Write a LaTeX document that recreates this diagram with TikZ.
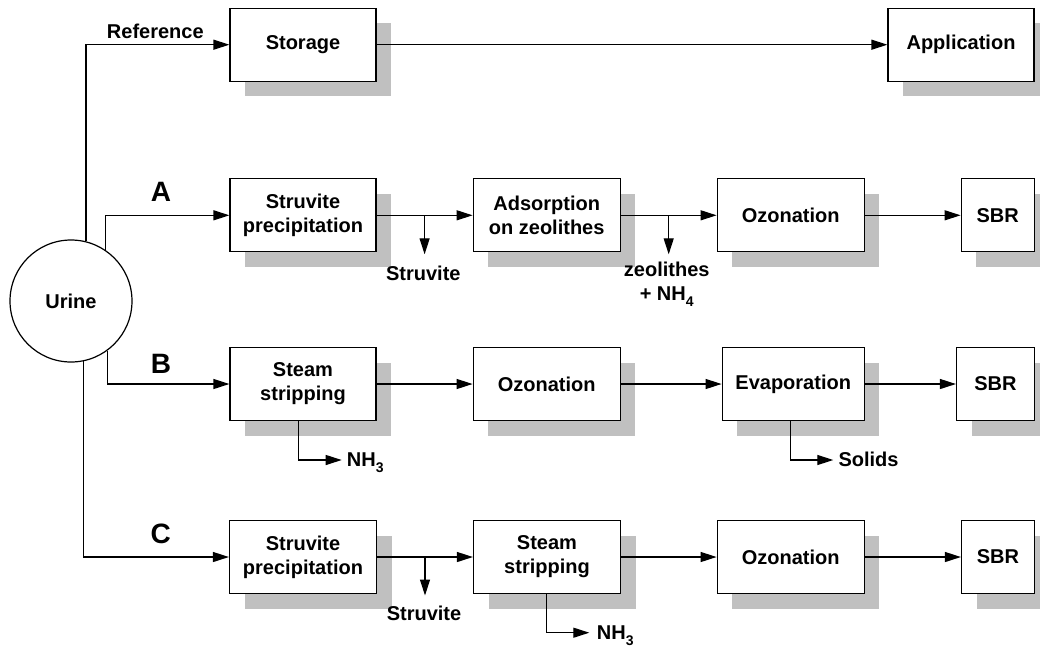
\documentclass[tikz,border=0pt]{standalone}
\usepackage{fontspec}
\setmainfont{Liberation Sans}
\usetikzlibrary{arrows.meta,shadows,calc}
\definecolor{shadowgray}{RGB}{192,192,192}
% lowered index for chemical formulas
\newcommand\chemsub[1]{\raisebox{-6pt}{\fontsize{14}{14}\selectfont #1}}
\tikzset{
  every node/.style={font=\bfseries\fontsize{20}{24}\selectfont},
  proc/.style={draw, line width=1.2pt, fill=white, align=center, inner sep=0pt,
    minimum width=146pt, minimum height=73pt,
    general shadow={fill=shadowgray, shadow xshift=15pt, shadow yshift=-15pt}},
  source/.style={circle, draw, line width=1.2pt, fill=white, minimum size=122pt, inner sep=0pt},
  flow/.style={line width=1.2pt, -{Triangle[length=16pt,width=10pt]}},
  lbl/.style={inner sep=0pt, align=center},
  route/.style={inner sep=0pt, font=\bfseries\fontsize{28}{32}\selectfont},
}
\begin{document}
\begin{tikzpicture}[x=1pt,y=-1pt]
\useasboundingbox (0,0) rectangle (1040,646);

% source
\node[source] (urine) at (71,301) {Urine};

% reference line
\node[proc] (storage) at (303,44.7) {Storage};
\node[proc] (app) at (961,44.7) {Application};

% line A
\node[proc] (strA) at (303,215.3) {Struvite\\precipitation};
\node[proc, minimum width=147pt] (adsA) at (546.7,215.3) {Adsorption\\on zeolithes};
\node[proc, minimum width=147pt] (ozA) at (790.7,215.3) {Ozonation};
\node[proc, minimum width=73pt] (sbrA) at (997.7,215.3) {SBR};

% line B
\node[proc] (steamB) at (303,384) {Steam\\stripping};
\node[proc, minimum width=147pt] (ozB) at (546.7,384) {Ozonation};
\node[proc, minimum width=142pt] (evapB) at (793.2,384) {Evaporation};
\node[proc, minimum width=78pt] (sbrB) at (995.5,384) {SBR};

% line C
\node[proc, minimum width=147pt] (strC) at (303,557) {Struvite\\precipitation};
\node[proc, minimum width=147pt] (steamC) at (547,557) {Steam\\stripping};
\node[proc, minimum width=147pt] (ozC) at (790.7,557) {Ozonation};
\node[proc, minimum width=73pt] (sbrC) at (998,557) {SBR};

% route labels
\node[lbl, anchor=base] (lref) at (155.3,38.3) {Reference};
\node[route, anchor=base] (lA) at (161,201.7) {A};
\node[route, anchor=base] (lB) at (161,373.3) {B};
\node[route, anchor=base] (lC) at (160.7,543.3) {C};

% feeds from the urine
\draw[flow] (urine.76) |- (storage.west);
\draw[flow] (urine.56) |- (strA.west);
\draw[flow] (urine.-54) |- (steamB.west);
\draw[flow] (urine.-78) |- (strC.west);

% main chains
\draw[flow] (storage) -- (app);
\draw[flow] (strA) -- (adsA);
\draw[flow] (adsA) -- (ozA);
\draw[flow] (ozA) -- (sbrA);
\draw[flow] (steamB) -- (ozB);
\draw[flow] (ozB) -- (evapB);
\draw[flow] (evapB) -- (sbrB);
\draw[flow] (strC) -- (steamC);
\draw[flow] (steamC) -- (ozC);
\draw[flow] (ozC) -- (sbrC);

% side streams, line A
\coordinate (jA1) at ($(strA.east)!0.5!(adsA.west)$);
\draw[flow] (jA1) -- ++(0,39) coordinate (tA1);
\node[lbl, anchor=base] (sA) at (423.3,280) {Struvite};
\coordinate (jA2) at ($(adsA.east)!0.5!(ozA.west)$);
\draw[flow] (jA2) -- ++(0,39) coordinate (tA2);
\node[lbl, anchor=north] (zA) at (666.7,262) {zeolithes\\+ NH\chemsub{4}};

% side streams, line B
\coordinate (bB) at (298.3,460);
\coordinate (tB) at (341.7,460);
\draw[flow] (steamB.south -| bB) |- (tB);
\node[lbl, anchor=base west] (nB) at (346.7,466) {NH\chemsub{3}};
\coordinate (bE) at (790.7,460);
\coordinate (tE) at (833.3,460);
\draw[flow] (evapB.south -| bE) |- (tE);
\node[lbl, anchor=base west] (sE) at (838.3,466) {Solids};

% side streams, line C
\coordinate (jC1) at ($(strC.east)!0.5!(steamC.west)$);
\draw[flow] (jC1) -- ++(0,38.5) coordinate (tC1);
\node[lbl, anchor=base] (sC) at (424,620.7) {Struvite};
\coordinate (bC) at (546.7,632.7);
\coordinate (tC) at (589.3,632.7);
\draw[flow] (steamC.south -| bC) |- (tC);
\node[lbl, anchor=base west] (nC) at (596.7,639) {NH\chemsub{3}};
\end{tikzpicture}
\end{document}
